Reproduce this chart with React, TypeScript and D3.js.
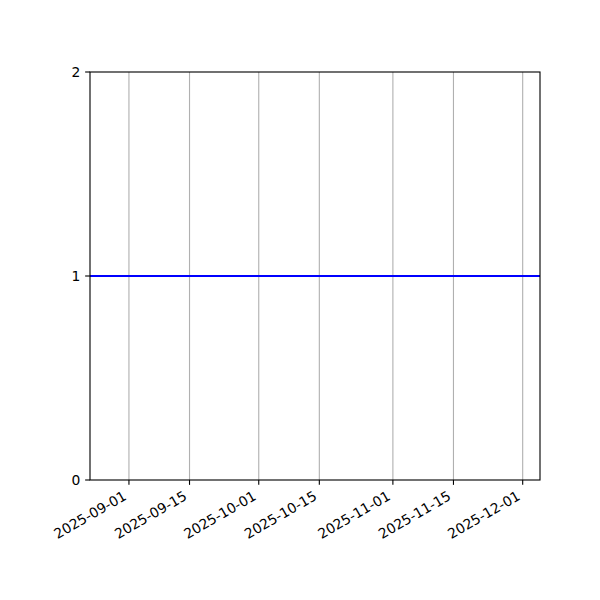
import React from "react";
import * as d3 from "d3";

// series: one flat value over the whole date range
const dates = ["2025-08-23", "2025-12-05"];
const values = [1, 1];
const xTickLabels = [
  "2025-09-01",
  "2025-09-15",
  "2025-10-01",
  "2025-10-15",
  "2025-11-01",
  "2025-11-15",
  "2025-12-01",
];
const yTicks = [0, 1, 2];

const parse = d3.timeParse("%Y-%m-%d");

const App = () => {
  const width = 600;
  const height = 600;
  const margin = { top: 72, right: 60, bottom: 120, left: 90 };
  const innerW = width - margin.left - margin.right;
  const innerH = height - margin.top - margin.bottom;

  const points = dates.map((d, i) => ({ date: parse(d) as Date, value: values[i] }));

  const x = d3
    .scaleTime()
    .domain(d3.extent(points, (d) => d.date) as [Date, Date])
    .range([0, innerW]);
  const y = d3.scaleLinear().domain([0, 2]).range([innerH, 0]);

  const line = d3
    .line<{ date: Date; value: number }>()
    .x((d) => x(d.date))
    .y((d) => y(d.value));

  const font = "'DejaVu Sans', sans-serif";
  const fs = 13.89;
  const tickLen = 4.86;
  const pad = 4.86;

  return (
    <svg
      width={width}
      height={height}
      style={{ position: "absolute", left: 0, top: 0, background: "#fff" }}
    >
      <g transform={`translate(${margin.left}, ${margin.top})`}>
        {/* vertical grid */}
        {xTickLabels.map((t) => (
          <line
            key={"g" + t}
            x1={x(parse(t) as Date)}
            x2={x(parse(t) as Date)}
            y1={0}
            y2={innerH}
            stroke="#b0b0b0"
            strokeWidth={1.11}
          />
        ))}

        <path
          d={line(points) ?? ""}
          fill="none"
          stroke="#0000ff"
          strokeWidth={2.08}
        />

        {/* frame */}
        <rect
          x={0}
          y={0}
          width={innerW}
          height={innerH}
          fill="none"
          stroke="#000"
          strokeWidth={1.11}
        />

        {/* x ticks */}
        {xTickLabels.map((t) => {
          const px = x(parse(t) as Date);
          return (
            <g key={"x" + t}>
              <line
                x1={px}
                x2={px}
                y1={innerH}
                y2={innerH + tickLen}
                stroke="#000"
                strokeWidth={1.11}
              />
              <text
                transform={`translate(${px - 1.5}, ${innerH + tickLen + pad + 9.1}) rotate(-30)`}
                textAnchor="end"
                fontFamily={font}
                fontSize={fs}
                fill="#000"
              >
                {t}
              </text>
            </g>
          );
        })}

        {/* y ticks */}
        {yTicks.map((t) => (
          <g key={"y" + t}>
            <line
              x1={-tickLen}
              x2={0}
              y1={y(t)}
              y2={y(t)}
              stroke="#000"
              strokeWidth={1.11}
            />
            <text
              x={-tickLen - pad}
              y={y(t)}
              dy="0.35em"
              textAnchor="end"
              fontFamily={font}
              fontSize={fs}
              fill="#000"
            >
              {t}
            </text>
          </g>
        ))}
      </g>
    </svg>
  );
};

export default App;
